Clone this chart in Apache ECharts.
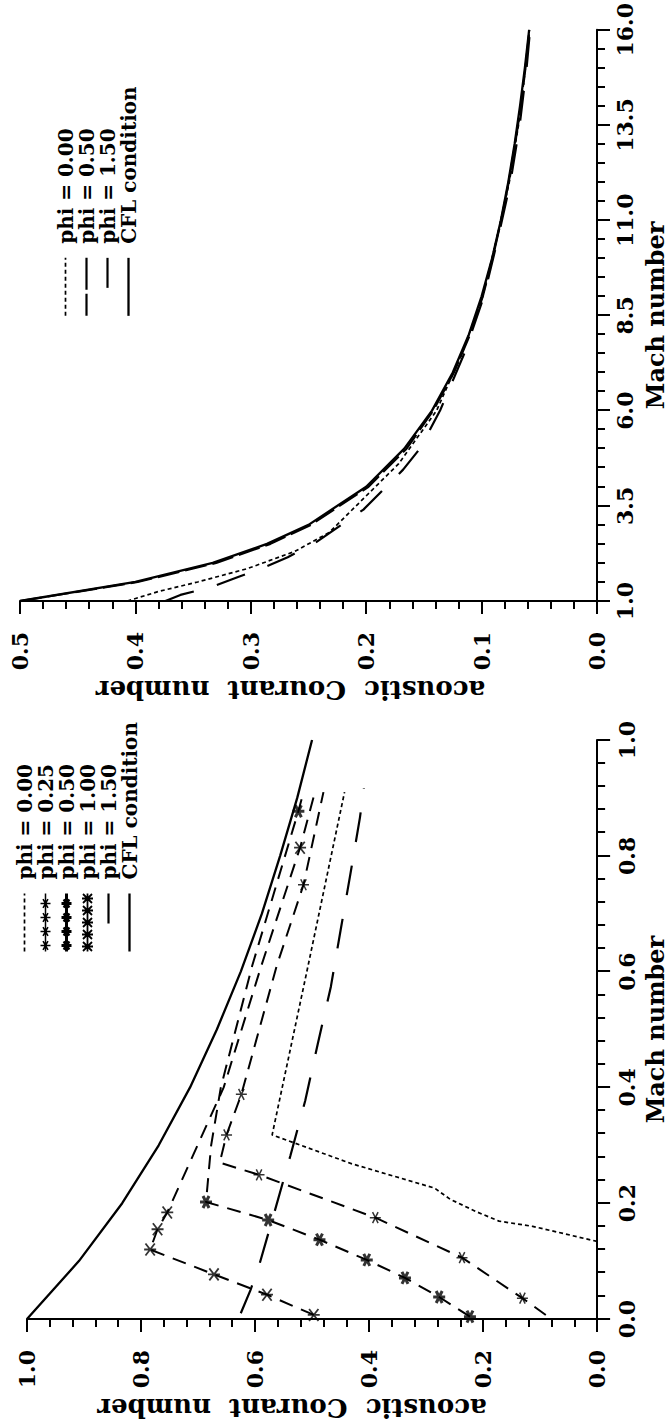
<!DOCTYPE html>
<html>
<head>
<meta charset="utf-8">
<script src="https://cdn.jsdelivr.net/npm/echarts/dist/echarts.min.js"></script>
<style>
html,body{margin:0;padding:0;background:#fff;width:672px;height:1427px;overflow:hidden;}
#chart{position:absolute;left:0;top:0;width:1427px;height:672px;transform-origin:0 0;transform:translate(0,1427px) rotate(-90deg);}
</style>
</head>
<body>
<div id="chart"></div>
<script>
// ---------- Left panel: Mach 0 .. 1 ----------
const L_cfl_M = [0, 0.1, 0.2, 0.3, 0.4, 0.5, 0.6, 0.7, 0.8, 0.9, 1.0];
const L_cfl_C = [1.0, 0.909, 0.833, 0.769, 0.714, 0.667, 0.625, 0.588, 0.556, 0.526, 0.5];

const L_phi000_M = [0.134, 0.16, 0.169, 0.185, 0.207, 0.226, 0.268, 0.318, 0.61, 0.91];
const L_phi000_C = [0.0, 0.113, 0.172, 0.211, 0.258, 0.285, 0.43, 0.570, 0.507, 0.443];

const L_phi025_M = [0.007, 0.036, 0.106, 0.175, 0.249, 0.27, 0.318, 0.388, 0.61, 0.75, 0.91];
const L_phi025_C = [0.09, 0.131, 0.237, 0.389, 0.593, 0.662, 0.650, 0.624, 0.562, 0.515, 0.48];
const L_phi025_markM = [0.036, 0.106, 0.175, 0.249, 0.318, 0.388, 0.75];
const L_phi025_markC = [0.131, 0.237, 0.389, 0.593, 0.650, 0.624, 0.515];

const L_phi050_M = [0.004, 0.038, 0.071, 0.102, 0.137, 0.171, 0.202, 0.3, 0.4, 0.61, 0.877, 0.91];
const L_phi050_C = [0.223, 0.277, 0.337, 0.404, 0.487, 0.577, 0.686, 0.677, 0.66, 0.605, 0.524, 0.515];
const L_phi050_markM = [0.004, 0.038, 0.071, 0.102, 0.137, 0.171, 0.202, 0.877];
const L_phi050_markC = [0.223, 0.277, 0.337, 0.404, 0.487, 0.577, 0.686, 0.524];

const L_phi100_M = [0.007, 0.042, 0.077, 0.12, 0.155, 0.184, 0.4, 0.61, 0.814, 0.91];
const L_phi100_C = [0.497, 0.579, 0.672, 0.784, 0.771, 0.754, 0.655, 0.589, 0.521, 0.495];
const L_phi100_markM = [0.007, 0.042, 0.077, 0.12, 0.155, 0.184, 0.814];
const L_phi100_markC = [0.497, 0.579, 0.672, 0.784, 0.771, 0.754, 0.521];

const L_phi150_M = [0.01, 0.05, 0.092, 0.181, 0.282, 0.377, 0.475, 0.574, 0.671, 0.767, 0.866, 0.917];
const L_phi150_C = [0.625, 0.608, 0.593, 0.567, 0.538, 0.512, 0.490, 0.467, 0.450, 0.433, 0.416, 0.409];

// ---------- Right panel: Mach 1 .. 16 ----------
const R_cfl_M = [1, 1.5, 2, 2.5, 3, 4, 5, 6, 7, 8, 9, 10, 11, 12, 13, 14, 15, 16];
const R_cfl_C = [0.5, 0.4, 0.333, 0.286, 0.25, 0.2, 0.167, 0.143, 0.125, 0.111, 0.1, 0.0909, 0.0833, 0.0769, 0.0714, 0.0667, 0.0625, 0.0588];

const R_phi000_M = [1.0, 1.25, 1.5, 1.85, 2.3, 2.8, 3.7, 4.6, 6.0, 7.5, 9.0, 10.5, 12, 13.5, 15, 16];
const R_phi000_C = [0.407, 0.38, 0.346, 0.303, 0.262, 0.232, 0.202, 0.172, 0.139, 0.117, 0.099, 0.087, 0.076, 0.068, 0.062, 0.0585];

const R_phi050_M = [1, 1.5, 2, 2.5, 3, 4, 5, 6, 7, 8, 9, 10, 11, 12, 13, 14, 15, 16];
const R_phi050_C = [0.5, 0.398, 0.33, 0.283, 0.248, 0.198, 0.165, 0.142, 0.124, 0.11, 0.099, 0.0905, 0.083, 0.0765, 0.071, 0.066, 0.062, 0.0585];

const R_phi150_M = [1.0, 1.16, 1.37, 1.63, 1.89, 2.15, 2.54, 3.4, 4.45, 5.0, 6.0, 7.5, 9, 10.5, 12, 13.5, 15, 16];
const R_phi150_C = [0.374, 0.361, 0.334, 0.311, 0.288, 0.268, 0.2436, 0.2024, 0.168, 0.1535, 0.136, 0.115, 0.098, 0.086, 0.075, 0.067, 0.061, 0.058];

// axis ranges / tick steps
const L_machTicks = {min: 0, max: 1, interval: 0.2};
const L_courTicks = {min: 0, max: 1, interval: 0.2};
const R_machTicks = {min: 1, max: 16, interval: 2.5};
const R_courTicks = {min: 0, max: 0.5, interval: 0.1};

const X_TITLE = 'Mach number';
const Y_TITLE = 'acoustic\u00a0 Courant\u00a0 number';

const L_NAMES = ['phi = 0.00', 'phi = 0.25', 'phi = 0.50', 'phi = 1.00', 'phi = 1.50', 'CFL condition'];
const R_NAMES = ['phi = 0.00', 'phi = 0.50', 'phi = 1.50', 'CFL condition'];

// ---------- build ----------
const FONT = 'DejaVu Serif';
const pts = (M, C) => M.map((m, i) => [m, C[i]]);
const rk = n => 'R|' + n;   // internal key for right-panel series

const SYM_AST = 'path://M0,-10L0,10M-8.66,-5L8.66,5M-8.66,5L8.66,-5';
const SYM_CROSS = 'path://M-7,-7L7,7M-7,7L7,-7M0,-9L0,9';

// legend icon geometry (58 x 14 box)
const IW = 58, IH = 14, IY = 7;
function dashPath(dash, gap, len) {
  let s = '', x = 0;
  while (x < len) { s += 'M' + x + ',' + IY + 'L' + Math.min(x + dash, len) + ',' + IY; x += dash + gap; }
  return s;
}
function seg(a, b) { return 'M' + a + ',' + IY + 'L' + b + ',' + IY; }
function astAt(x, r) {
  const a = r * 0.866, b = r * 0.5;
  return 'M' + x + ',' + (IY - r) + 'L' + x + ',' + (IY + r) +
    'M' + (x - a) + ',' + (IY - b) + 'L' + (x + a) + ',' + (IY + b) +
    'M' + (x - a) + ',' + (IY + b) + 'L' + (x + a) + ',' + (IY - b);
}
function crossAt(x, r) {
  return 'M' + (x - r) + ',' + (IY - r) + 'L' + (x + r) + ',' + (IY + r) +
    'M' + (x - r) + ',' + (IY + r) + 'L' + (x + r) + ',' + (IY - r) +
    'M' + x + ',' + (IY - r - 1) + 'L' + x + ',' + (IY + r + 1);
}
const BOX = 'M0,0M' + IW + ',' + IH;
const ICON = {
  fine: 'path://' + BOX + dashPath(4, 3, IW),
  long: 'path://' + BOX + seg(28, IW),
  med: 'path://' + BOX + seg(0, 22) + seg(26, IW),
  solid: 'path://' + BOX + seg(0, IW),
  ast: 'path://' + BOX + seg(0, IW) + [6, 20, 34, 48].map(x => astAt(x, 5)).join(''),
  cross: 'path://' + BOX + seg(0, IW) + [5, 17, 29, 41, 53].map(x => crossAt(x, 4.5)).join('')
};
const legendItem = (name, icon, bw) => ({name, icon,
  itemStyle: {color: '#000', borderColor: '#000', borderWidth: bw, opacity: 1}});

function xAxisCfg(t, gridIndex, nameGap, labelMargin) {
  return {
    type: 'value', gridIndex, min: t.min, max: t.max, interval: t.interval,
    position: 'bottom',
    name: X_TITLE, nameLocation: 'middle', nameGap,
    nameTextStyle: {fontFamily: FONT, fontWeight: 'bold', fontSize: 24, color: '#000'},
    axisLine: {show: true, onZero: false, lineStyle: {color: '#000', width: 2}},
    axisTick: {show: true, inside: false, length: 13, lineStyle: {color: '#000', width: 2}},
    minorTick: {show: true, splitNumber: 5, length: 8, lineStyle: {color: '#000', width: 2}},
    splitLine: {show: false}, minorSplitLine: {show: false},
    axisLabel: {margin: labelMargin, fontFamily: FONT, fontWeight: 'bold', fontSize: 22, color: '#000',
      formatter: v => v.toFixed(1)}
  };
}
function yAxisCfg(t, gridIndex, nameGap, labelMargin, shift) {
  return {
    type: 'value', gridIndex, min: t.min, max: t.max, interval: t.interval,
    position: 'left',
    name: Y_TITLE, nameLocation: 'middle', nameGap,
    nameTextStyle: {fontFamily: FONT, fontWeight: 'bold', fontSize: 26, color: '#000', padding: [0, 0, 0, shift]},
    axisLine: {show: true, onZero: false, lineStyle: {color: '#000', width: 2}},
    axisTick: {show: true, inside: false, length: 13, lineStyle: {color: '#000', width: 2}},
    minorTick: {show: true, splitNumber: 5, length: 8, lineStyle: {color: '#000', width: 2}},
    splitLine: {show: false}, minorSplitLine: {show: false},
    axisLabel: {margin: labelMargin, fontFamily: FONT, fontWeight: 'bold', fontSize: 22, color: '#000',
      formatter: v => v.toFixed(1)}
  };
}

function lineS(name, M, C, idx, dash, width) {
  return {
    type: 'line', name, xAxisIndex: idx, yAxisIndex: idx,
    data: pts(M, C), showSymbol: false, symbol: 'none',
    smooth: false, animation: false, silent: true,
    lineStyle: {color: '#000', width, type: dash},
    itemStyle: {color: '#000'}
  };
}
function markS(name, M, C, idx, symbol, size, bw) {
  return {
    type: 'scatter', name, xAxisIndex: idx, yAxisIndex: idx,
    data: pts(M, C), symbol, symbolSize: size, animation: false, silent: true,
    itemStyle: {color: '#000', borderColor: '#000', borderWidth: bw}
  };
}

const DASH_FINE = [4, 3];
const DASH_MED = [14, 9];
const DASH_LONG = [30, 24];

const series = [
  lineS(L_NAMES[0], L_phi000_M, L_phi000_C, 0, DASH_FINE, 1.7),
  lineS(L_NAMES[1], L_phi025_M, L_phi025_C, 0, DASH_MED, 2),
  markS(L_NAMES[1], L_phi025_markM, L_phi025_markC, 0, SYM_AST, 11, 1.5),
  lineS(L_NAMES[2], L_phi050_M, L_phi050_C, 0, DASH_MED, 2),
  markS(L_NAMES[2], L_phi050_markM, L_phi050_markC, 0, SYM_AST, 12, 3),
  lineS(L_NAMES[3], L_phi100_M, L_phi100_C, 0, DASH_MED, 2),
  markS(L_NAMES[3], L_phi100_markM, L_phi100_markC, 0, SYM_CROSS, 12, 1.8),
  lineS(L_NAMES[4], L_phi150_M, L_phi150_C, 0, DASH_LONG, 2.2),
  lineS(L_NAMES[5], L_cfl_M, L_cfl_C, 0, 'solid', 2.3),

  lineS(rk(R_NAMES[0]), R_phi000_M, R_phi000_C, 1, DASH_FINE, 1.7),
  lineS(rk(R_NAMES[1]), R_phi050_M, R_phi050_C, 1, [22, 6], 2.2),
  lineS(rk(R_NAMES[2]), R_phi150_M, R_phi150_C, 1, DASH_LONG, 2.2),
  lineS(rk(R_NAMES[3]), R_cfl_M, R_cfl_C, 1, 'solid', 2.3)
];

const legendCommon = {
  orient: 'vertical', padding: 0, itemGap: 0, itemWidth: IW, itemHeight: IH,
  selectedMode: false, symbolKeepAspect: false,
  textStyle: {fontFamily: FONT, fontWeight: 'bold', fontSize: 20, color: '#000', lineHeight: 21, padding: [0, 0, 0, 9]}
};

const option = {
  animation: false,
  backgroundColor: '#fff',
  textStyle: {fontFamily: FONT},
  grid: [
    {left: 108, top: 27, width: 579, height: 582, containLabel: false},
    {left: 826, top: 20, width: 574, height: 582, containLabel: false}
  ],
  xAxis: [xAxisCfg(L_machTicks, 0, 42, 19), xAxisCfg(R_machTicks, 1, 46, 17)],
  yAxis: [yAxisCfg(L_courTicks, 0, 76, 31, 40), yAxisCfg(R_courTicks, 1, 76, 31, 36)],
  legend: [
    Object.assign({}, legendCommon, {left: 474, top: 14, data: [
      legendItem(L_NAMES[0], ICON.fine, 1.7),
      legendItem(L_NAMES[1], ICON.ast, 1.5),
      legendItem(L_NAMES[2], ICON.ast, 3),
      legendItem(L_NAMES[3], ICON.cross, 1.8),
      legendItem(L_NAMES[4], ICON.long, 2.2),
      legendItem(L_NAMES[5], ICON.solid, 2.3)
    ]}),
    Object.assign({}, legendCommon, {left: 1110, top: 55, data: [
      legendItem(rk(R_NAMES[0]), ICON.fine, 1.7),
      legendItem(rk(R_NAMES[1]), ICON.med, 2.2),
      legendItem(rk(R_NAMES[2]), ICON.long, 2.2),
      legendItem(rk(R_NAMES[3]), ICON.solid, 2.3)
    ], formatter: n => n.slice(2)})
  ],
  series
};

const chart = echarts.init(document.getElementById('chart'), null, {renderer: 'svg', width: 1427, height: 672});
chart.setOption(option);
</script>
</body>
</html>
